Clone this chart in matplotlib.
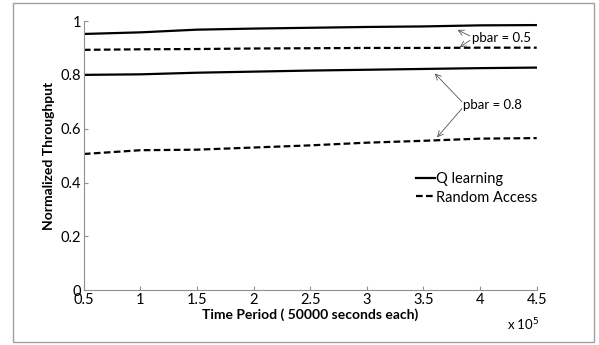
import numpy as np
import matplotlib.pyplot as plt
from matplotlib.patches import Rectangle

plt.rcParams['font.family'] = ['Lato', 'DejaVu Sans']

# donnees
t = [0.5, 1.0, 1.5, 2.0, 2.5, 3.0, 3.5, 4.0, 4.5]
q_05 = [0.952, 0.958, 0.968, 0.972, 0.975, 0.978, 0.980, 0.984, 0.985]
ra_05 = [0.893, 0.895, 0.896, 0.898, 0.899, 0.900, 0.900, 0.901, 0.901]
q_08 = [0.800, 0.802, 0.808, 0.812, 0.816, 0.819, 0.822, 0.825, 0.827]
ra_08 = [0.506, 0.520, 0.522, 0.530, 0.538, 0.548, 0.555, 0.563, 0.565]
xticks = [0.5, 1, 1.5, 2, 2.5, 3, 3.5, 4, 4.5]
yticks = [0, 0.2, 0.4, 0.6, 0.8, 1]

fig = plt.figure(figsize=(5.99, 3.45), dpi=100)
ax = fig.add_axes([0.140, 0.159, 0.756, 0.780])

# cadre exterieur
fig.patches.append(Rectangle((0.022, 0.009), 0.970, 0.982, transform=fig.transFigure,
                             fill=False, edgecolor='#a0a0a0', lw=1.0))

dash = (0, (3, 1.5))
ax.plot(t, q_05, color='black', lw=1.6, label='Q learning')
ax.plot(t, ra_05, color='black', lw=1.6, ls=dash, label='Random Access')
ax.plot(t, q_08, color='black', lw=1.6)
ax.plot(t, ra_08, color='black', lw=1.6, ls=dash)

ax.set_xlim(0.5, 4.5)
ax.set_ylim(0, 1)
ax.set_xticks(xticks)
ax.set_xticklabels(['0.5', '1', '1.5', '2', '2.5', '3', '3.5', '4', '4.5'])
ax.set_yticks(yticks)
ax.set_yticklabels(['0', '0.2', '0.4', '0.6', '0.8', '1'])
ax.tick_params(direction='in', length=3, color='#909090', labelsize=10.5, pad=2)
for s in ['top', 'right']:
    ax.spines[s].set_visible(False)
for s in ['left', 'bottom']:
    ax.spines[s].set_color('#909090')

ax.set_xlabel('Time Period ( 50000 seconds each)', fontsize=10, fontweight='bold', labelpad=1)
ax.set_ylabel('Normalized Throughput', fontsize=10, fontweight='bold', labelpad=4)
fig.text(0.846, 0.058, r'x 10$^5$', fontsize=9.5, ha='left', va='center')

arr = dict(arrowstyle='->', color='#555555', lw=0.6, shrinkA=0, shrinkB=0)
ax.annotate('', xy=(3.80, 0.967), xytext=(3.91, 0.945), arrowprops=arr)
ax.annotate('', xy=(3.82, 0.903), xytext=(3.91, 0.928), arrowprops=arr)
ax.text(3.93, 0.937, 'pbar = 0.5', fontsize=9.5, va='center', ha='left')
ax.annotate('', xy=(3.60, 0.805), xytext=(3.84, 0.70), arrowprops=arr)
ax.annotate('', xy=(3.62, 0.568), xytext=(3.84, 0.675), arrowprops=arr)
ax.text(3.85, 0.688, 'pbar = 0.8', fontsize=9.5, va='center', ha='left')

ax.legend(loc='upper left', bbox_to_anchor=(0.72, 0.46), frameon=False, fontsize=10.5,
          handlelength=1.3, handletextpad=0.1, labelspacing=0.3, borderaxespad=0)

plt.savefig('out.png', dpi=100)
